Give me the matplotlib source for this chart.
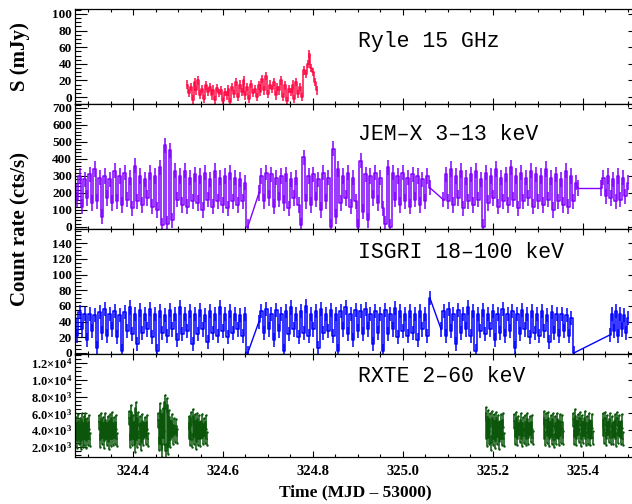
import numpy as np
import matplotlib
matplotlib.use("Agg")
import matplotlib.pyplot as plt
from matplotlib.ticker import MultipleLocator, FuncFormatter

# --- data (time in MJD - 53000) ---
# Ryle 15 GHz, one continuous run
ryle_spans = [(324.520, 324.809)]
ryle_flux = [[15, 5, 12, -3, 18, 8, 20, 3, 10, -2, 14, 6, 12, 2, 9, -4, 11, 5, 8, -5,
              6, 2, 10, -6, 12, 4, 18, 0, 15, 6, 20, 2, 12, -2, 16, 5, 10, 0, 14, 6,
              22, 8, 25, 4, 15, 10, 18, 2, 12, 8, 20, 0, 14, -5, 10, 6, 15, -2, 18, 4,
              12, 0, 32, 28, 40, 52, 35, 30, 18, 8]]
ryle_err = 5

# JEM-X 3-13 keV, four pointings
jemx_spans = [(324.270, 324.655), (324.680, 325.060), (325.090, 325.390), (325.440, 325.500)]
jemx_rate = [
    [250, 160, 300, 120, 280, 170, 310, 140, 340, 150, 290, 60, 300, 170, 280, 140, 330, 150, 300, 130,
     320, 160, 290, 110, 360, 150, 300, 130, 280, 170, 320, 120, 300, 100, 350, 10, 480, 20, 450, 40,
     330, 160, 300, 130, 330, 120, 290, 150, 310, 140, 300, 100, 320, 160, 280, 120, 330, 150, 290, 130,
     300, 110, 320, 150, 290, 130, 280, 150, 260, 0],
    [200, 300, 150, 320, 170, 310, 120, 290, 160, 300, 140, 310, 110, 280, 170, 290, 130, 10, 410, 150,
     300, 130, 310, 160, 280, 100, 320, 150, 290, 0, 460, 60, 340, 140, 300, 170, 320, 120, 290, 150,
     0, 390, 90, 310, 40, 300, 170, 320, 140, 290, 110, 20, 350, 0, 320, 160, 300, 130, 320, 150,
     290, 120, 310, 160, 300, 130, 280, 150, 300, 230],
    [160, 310, 150, 340, 130, 300, 170, 330, 110, 290, 150, 310, 130, 330, 160, 280, 0, 320, 140, 300,
     170, 340, 120, 290, 150, 310, 130, 350, 160, 300, 110, 320, 150, 290, 170, 330, 120, 310, 150, 300,
     130, 340, 160, 290, 100, 310, 150, 280, 130, 330, 120, 300, 150, 260, 229],
    [229, 290, 180, 300, 170, 280, 150, 300, 160, 290, 180, 260],
]
jemx_err = 45

# ISGRI 18-100 keV
isgri_spans = [(324.270, 324.655), (324.680, 325.060), (325.085, 325.380), (325.460, 325.500)]
isgri_rate = [
    [45, 22, 52, 30, 50, 17, 50, 28, 48, 6, 52, 25, 56, 22, 50, 30, 54, 20, 48, 2,
     52, 28, 58, 24, 50, 12, 55, 25, 50, 30, 56, 20, 50, 2, 54, 26, 48, 22, 55, 30,
     50, 17, 58, 24, 50, 28, 53, 12, 50, 24, 55, 30, 48, 14, 54, 26, 50, 22, 58, 28,
     50, 20, 53, 25, 50, 30, 48, 22, 50, 0],
    [40, 53, 25, 56, 30, 50, 17, 55, 28, 50, 2, 53, 24, 58, 30, 50, 20, 54, 26, 60,
     22, 50, 30, 53, 6, 56, 25, 50, 28, 55, 22, 50, 2, 54, 30, 58, 24, 50, 17, 55,
     28, 53, 24, 56, 30, 50, 12, 54, 26, 50, 2, 55, 24, 50, 30, 57, 20, 53, 28, 50,
     22, 54, 25, 50, 17, 53, 30, 50, 22, 70],
    [30, 53, 22, 56, 28, 50, 12, 55, 25, 50, 30, 58, 22, 53, 2, 50, 28, 55, 24, 50,
     30, 54, 17, 50, 26, 56, 22, 50, 28, 53, 6, 50, 24, 55, 30, 50, 20, 54, 26, 50,
     22, 53, 28, 48, 14, 52, 25, 50, 22, 50, 28, 48, 22, 45, 0],
    [23, 50, 28, 53, 22, 50, 30, 48, 25, 45],
]
isgri_err = 9

# RXTE 2-60 keV, ten short pointings
rxte_spans = [(324.270, 324.304), (324.325, 324.364), (324.391, 324.433), (324.456, 324.498),
              (324.524, 324.564), (325.184, 325.224), (325.247, 325.289), (325.313, 325.356),
              (325.378, 325.422), (325.444, 325.489)]
rxte_rate = [
    [5200, 2900, 4800, 2700, 5100, 3100, 4600, 2600, 5200, 2800, 4900, 3000, 5300, 2700, 4700, 3000, 5000, 2900],
    [5000, 2800, 5300, 3100, 4800, 2700, 5200, 3000, 4900, 2600, 5100, 2900, 5400, 3000, 4800, 3100, 5000, 2900],
    [5500, 2800, 6200, 3000, 5000, 2200, 6600, 2800, 5400, 3100, 4900, 2500, 5100, 3000, 4800, 3200, 5000, 2900],
    [5200, 2400, 6400, 1600, 5900, 3100, 7400, 1500, 7000, 2000, 5600, 2800, 5100, 3200, 4600, 3400, 4500, 3300],
    [4900, 3000, 5400, 2800, 5700, 3200, 5100, 2600, 5300, 3000, 5000, 2900, 5100, 3100, 4700, 3300, 5000, 3000],
    [6000, 2900, 5600, 3100, 5300, 2500, 5500, 3000, 5100, 2700, 5400, 3200, 5000, 2600, 5100, 3000, 5200, 2900],
    [5100, 3200, 5400, 3000, 4900, 3400, 5200, 2900, 4800, 3300, 5000, 3000, 5300, 3100, 4900, 3400, 5000, 3100],
    [5500, 3000, 5200, 3300, 5400, 2900, 5000, 3200, 5300, 2800, 4900, 3100, 5300, 3000, 5100, 3300, 5000, 3100],
    [5300, 3200, 5700, 3000, 5100, 3400, 5400, 2900, 5000, 3300, 5500, 3000, 4900, 3100, 5200, 3000, 5100, 3100],
    [5200, 3300, 5400, 3000, 5000, 3400, 5300, 3100, 4900, 3200, 5100, 2900, 5400, 3300, 5000, 3100, 5100, 3000],
]
rxte_err = 800

titles = ["Ryle 15 GHz", "JEM\u2013X 3\u201313 keV", "ISGRI 18\u2013100 keV", "RXTE 2\u201360 keV"]


def binned(span, vals):
    # evenly spaced bins across one pointing
    return np.linspace(span[0], span[1], len(vals)), np.asarray(vals, float)


def light_curve(ax, spans, vals, err, color, bridge=True, dots=False):
    # histogram-style curve with error bars, straight lines across the gaps
    prev = None
    for s, y in zip(spans, vals):
        t, v = binned(s, y)
        ax.plot(t, v, color=color, lw=1.1, drawstyle='steps-mid')
        ax.errorbar(t, v, yerr=err, fmt='none', ecolor=color, elinewidth=1.1, capsize=0)
        if dots:
            ax.plot(t, v + err, '.', color=color, ms=1.5)
            ax.plot(t, v - err, '.', color=color, ms=1.5)
        if bridge and prev is not None:
            ax.plot([prev[0], t[0]], [prev[1], v[0]], color=color, lw=1.0)
        prev = (t[-1], v[-1])


plt.rcParams['font.family'] = ['Liberation Serif', 'DejaVu Serif']
plt.rcParams['font.weight'] = 'bold'
plt.rcParams['mathtext.default'] = 'regular'

fig = plt.figure(figsize=(6.32, 5.04), dpi=100)
L, W = 75 / 632, 565 / 632
pix = [(9, 104), (104, 229), (229, 354), (354, 457)]
axes = []
for top, bot in pix:
    axes.append(fig.add_axes([L, 1 - bot / 504, W, (bot - top) / 504]))

xlim = (324.271, 325.527)
ylims = [(-8.4, 106), (-12, 723), (-1.3, 158), (810, 13070)]
ymajor = [20, 100, 20, 2000]
yminor = [5, 20, 5, 500]
title_y = [0.653, 0.752, 0.808, 0.777]

light_curve(axes[0], ryle_spans, ryle_flux, ryle_err, '#ff0a45')
light_curve(axes[1], jemx_spans, jemx_rate, jemx_err, '#8000ff')
light_curve(axes[2], isgri_spans, isgri_rate, isgri_err, '#0000ff')
light_curve(axes[3], rxte_spans, rxte_rate, rxte_err, '#0b560b', bridge=False, dots=True)


def sci(val, pos):
    if val <= 0:
        return ''
    e = int(np.floor(np.log10(val)))
    m = val / 10 ** e
    return f'{m:.1f}\u00d710$^{{{e}}}$'


for i, ax in enumerate(axes):
    ax.set_xlim(*xlim)
    ax.set_ylim(*ylims[i])
    ax.xaxis.set_major_locator(MultipleLocator(0.2))
    ax.xaxis.set_minor_locator(MultipleLocator(0.05))
    ax.yaxis.set_major_locator(MultipleLocator(ymajor[i]))
    ax.yaxis.set_minor_locator(MultipleLocator(yminor[i]))
    ax.tick_params(axis='x', which='major', direction='in', top=True, length=4, width=0.8)
    ax.tick_params(axis='x', which='minor', direction='in', top=True, length=2.2, width=0.8)
    ax.tick_params(axis='y', which='major', direction='in', right=True, length=8.5, width=0.8,
                   labelsize=9.5, pad=2)
    ax.tick_params(axis='y', which='minor', direction='in', right=True, length=4.3, width=0.8)
    if i < 3:
        ax.tick_params(axis='x', labelbottom=False)
    else:
        ax.tick_params(axis='x', labelsize=10.5, pad=6)
        ax.tick_params(axis='y', labelsize=9)
        ax.xaxis.set_major_formatter(FuncFormatter(lambda x, p: f'{x:.1f}'))
        ax.yaxis.set_major_formatter(FuncFormatter(sci))
    for sp in ax.spines.values():
        sp.set_linewidth(0.9)
    ax.text(0.501, title_y[i], titles[i], transform=ax.transAxes, ha='left', va='center',
            fontsize=15.5, fontweight='normal', family=['Liberation Mono', 'DejaVu Sans Mono'])

fig.text(0.032, 1 - 57 / 504, 'S (mJy)', rotation=90, ha='center', va='center', fontsize=15)
fig.text(0.032, 1 - 229 / 504, 'Count rate (cts/s)', rotation=90, ha='center', va='center',
         fontsize=15)
fig.text(355 / 632, 1 - 492 / 504, 'Time (MJD \u2013 53000)', ha='center', va='center', fontsize=12.5)

fig.savefig('out.png', dpi=100)
